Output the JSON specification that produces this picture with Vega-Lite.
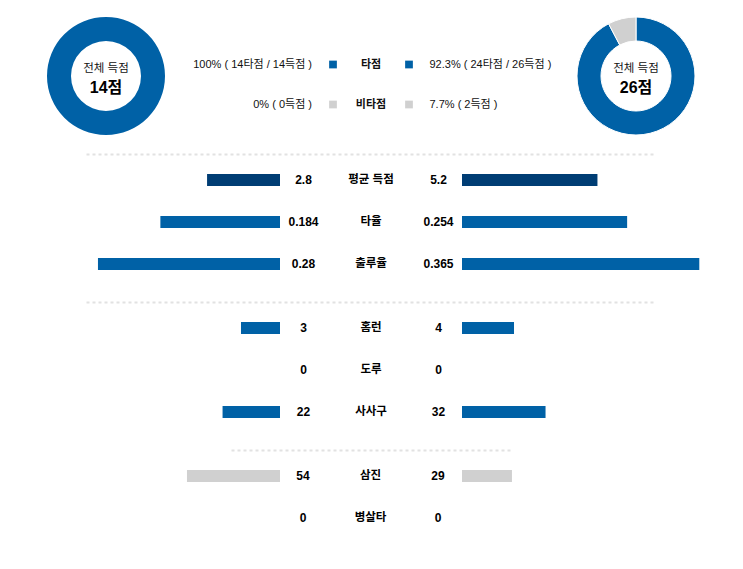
{
  "$schema": "https://vega.github.io/schema/vega-lite/v6.json",
  "padding": 0,
  "bounds": "flush",
  "spacing": 12,
  "background": "#ffffff",
  "config": {"view": {"stroke": null}, "font": "Liberation Sans, Noto Sans CJK KR"},
  "datasets": {
    "donut": [
      {"team": "home", "kind": "타점", "runs": 14},
      {"team": "home", "kind": "비타점", "runs": 0},
      {"team": "away", "kind": "타점", "runs": 24},
      {"team": "away", "kind": "비타점", "runs": 2}
    ],
    "donutText": [
      {"team": "home", "label": "전체 득점", "total": "14점"},
      {"team": "away", "label": "전체 득점", "total": "26점"}
    ],
    "legend": [
      {"kind": "타점", "home": "100% ( 14타점 / 14득점 )", "away": "92.3% ( 24타점 / 26득점 )"},
      {"kind": "비타점", "home": "0% ( 0득점 )", "away": "7.7% ( 2득점 )"}
    ],
    "stats": [
      {"stat": "평균 득점", "home": 2.8, "away": 5.2},
      {"stat": "타율", "home": 0.184, "away": 0.254},
      {"stat": "출루율", "home": 0.28, "away": 0.365},
      {"stat": "홈런", "home": 3, "away": 4},
      {"stat": "도루", "home": 0, "away": 0},
      {"stat": "사사구", "home": 22, "away": 32},
      {"stat": "삼진", "home": 54, "away": 29},
      {"stat": "병살타", "home": 0, "away": 0}
    ]
  },
  "vconcat": [
    {
      "width": 743,
      "height": 142,
      "layer": [
        {
          "data": {"name": "donut"},
          "transform": [{"filter": "datum.team === 'home'"}],
          "mark": {"type": "arc", "innerRadius": 35, "outerRadius": 59, "yOffset": 5},
          "encoding": {
            "theta": {"field": "runs", "type": "quantitative", "stack": true},
            "color": {"field": "kind", "type": "nominal", "scale": {"domain": ["타점", "비타점"], "range": ["#0061a6", "#d0d0d0"]}, "legend": null},
            "order": {"field": "kind", "sort": "descending"},
            "x": {"field": "team", "type": "nominal", "scale": {"type": "point", "domain": ["home", "away"], "range": [106, 636], "padding": 0}, "axis": null}
          }
        },
        {
          "data": {"name": "donut"},
          "transform": [{"filter": "datum.team === 'away'"}],
          "mark": {"type": "arc", "innerRadius": 35, "outerRadius": 59, "yOffset": 5, "stroke": "#ffffff", "strokeWidth": 1},
          "encoding": {
            "theta": {"field": "runs", "type": "quantitative", "stack": true},
            "color": {"field": "kind", "type": "nominal", "scale": {"domain": ["타점", "비타점"], "range": ["#0061a6", "#d0d0d0"]}, "legend": null},
            "order": {"field": "kind", "sort": "descending"},
            "x": {"field": "team", "type": "nominal", "scale": {"type": "point", "domain": ["home", "away"], "range": [106, 636], "padding": 0}, "axis": null}
          }
        },
        {
          "data": {"name": "donutText"},
          "mark": {"type": "text", "fontSize": 11.5, "color": "#111111", "yOffset": 5, "dy": -7.5, "baseline": "middle", "font": "Liberation Sans, Noto Sans CJK KR"},
          "encoding": {
            "text": {"field": "label"},
            "x": {"field": "team", "type": "nominal", "scale": {"type": "point", "domain": ["home", "away"], "range": [106, 636], "padding": 0}, "axis": null}
          }
        },
        {
          "data": {"name": "donutText"},
          "mark": {"type": "text", "fontSize": 16, "fontWeight": "bold", "color": "#000000", "yOffset": 5, "dy": 11.5, "baseline": "middle", "font": "Liberation Sans, Noto Sans CJK KR"},
          "encoding": {
            "text": {"field": "total"},
            "x": {"field": "team", "type": "nominal", "scale": {"type": "point", "domain": ["home", "away"], "range": [106, 636], "padding": 0}, "axis": null}
          }
        },
        {
          "data": {"name": "legend"},
          "mark": {"type": "text", "fontSize": 11, "color": "#111111", "align": "right", "dx": 17, "baseline": "middle", "font": "Liberation Sans, Noto Sans CJK KR"},
          "encoding": {
            "text": {"field": "home"},
            "x": {"datum": "home", "type": "nominal", "scale": {"type": "point", "domain": ["home", "swH", "label", "swA", "away"], "range": [295, 447], "padding": 0}, "axis": null},
            "y": {"field": "kind", "type": "nominal", "scale": {"type": "point", "domain": ["타점", "비타점"], "range": [64.5, 104.5], "padding": 0}, "axis": null}
          }
        },
        {
          "data": {"name": "legend"},
          "mark": {"type": "square", "size": 60, "opacity": 1, "filled": true},
          "encoding": {
            "color": {"field": "kind", "type": "nominal", "scale": {"domain": ["타점", "비타점"], "range": ["#0061a6", "#d0d0d0"]}, "legend": null},
            "x": {"datum": "swH", "type": "nominal", "scale": {"type": "point", "domain": ["home", "swH", "label", "swA", "away"], "range": [295, 447], "padding": 0}, "axis": null},
            "y": {"field": "kind", "type": "nominal", "scale": {"type": "point", "domain": ["타점", "비타점"], "range": [64.5, 104.5], "padding": 0}, "axis": null}
          }
        },
        {
          "data": {"name": "legend"},
          "mark": {"type": "square", "size": 60, "opacity": 1, "filled": true},
          "encoding": {
            "color": {"field": "kind", "type": "nominal", "scale": {"domain": ["타점", "비타점"], "range": ["#0061a6", "#d0d0d0"]}, "legend": null},
            "x": {"datum": "swA", "type": "nominal", "scale": {"type": "point", "domain": ["home", "swH", "label", "swA", "away"], "range": [295, 447], "padding": 0}, "axis": null},
            "y": {"field": "kind", "type": "nominal", "scale": {"type": "point", "domain": ["타점", "비타점"], "range": [64.5, 104.5], "padding": 0}, "axis": null}
          }
        },
        {
          "data": {"name": "legend"},
          "mark": {"type": "text", "fontSize": 11, "fontWeight": "bold", "color": "#111111", "align": "center", "baseline": "middle", "font": "Liberation Sans, Noto Sans CJK KR"},
          "encoding": {
            "text": {"field": "kind"},
            "x": {"datum": "label", "type": "nominal", "scale": {"type": "point", "domain": ["home", "swH", "label", "swA", "away"], "range": [295, 447], "padding": 0}, "axis": null},
            "y": {"field": "kind", "type": "nominal", "scale": {"type": "point", "domain": ["타점", "비타점"], "range": [64.5, 104.5], "padding": 0}, "axis": null}
          }
        },
        {
          "data": {"name": "legend"},
          "mark": {"type": "text", "fontSize": 11, "color": "#111111", "align": "left", "dx": -17.5, "baseline": "middle", "font": "Liberation Sans, Noto Sans CJK KR"},
          "encoding": {
            "text": {"field": "away"},
            "x": {"datum": "away", "type": "nominal", "scale": {"type": "point", "domain": ["home", "swH", "label", "swA", "away"], "range": [295, 447], "padding": 0}, "axis": null},
            "y": {"field": "kind", "type": "nominal", "scale": {"type": "point", "domain": ["타점", "비타점"], "range": [64.5, 104.5], "padding": 0}, "axis": null}
          }
        }
      ],
      "resolve": {"scale": {"x": "independent", "y": "independent", "theta": "independent", "color": "shared"}}
    },
    {
      "width": 743,
      "height": 136,
      "data": {"name": "stats"},
      "transform": [{"filter": {"field": "stat", "oneOf": ["평균 득점", "타율", "출루율"]}}],
      "encoding": {
        "y": {"field": "stat", "type": "nominal", "scale": {"domain": ["평균 득점", "타율", "출루율"], "paddingInner": 0, "paddingOuter": 0.119}, "axis": null}
      },
      "layer": [
        {
          "transform": [{"filter": "datum.stat === '평균 득점'"}],
          "mark": {"type": "bar", "size": 12, "color": "#003d74"},
          "encoding": {"x": {"field": "home", "type": "quantitative", "scale": {"domain": [0, 9.06], "range": [280, 44]}, "axis": null}}
        },
        {
          "transform": [{"filter": "datum.stat === '평균 득점'"}],
          "mark": {"type": "bar", "size": 12, "color": "#003d74"},
          "encoding": {"x": {"field": "away", "type": "quantitative", "scale": {"domain": [0, 9.06], "range": [462, 698]}, "axis": null}}
        },
        {
          "transform": [{"filter": "datum.stat !== '평균 득점'"}],
          "mark": {"type": "bar", "size": 12, "color": "#0061a6"},
          "encoding": {"x": {"field": "home", "type": "quantitative", "scale": {"domain": [0, 0.363], "range": [280, 44]}, "axis": null}}
        },
        {
          "transform": [{"filter": "datum.stat !== '평균 득점'"}],
          "mark": {"type": "bar", "size": 12, "color": "#0061a6"},
          "encoding": {"x": {"field": "away", "type": "quantitative", "scale": {"domain": [0, 0.363], "range": [462, 698]}, "axis": null}}
        },
        {
          "mark": {"type": "text", "fontSize": 12, "fontWeight": "bold", "color": "#000000", "baseline": "middle", "dx": 1.5, "font": "Liberation Sans, Noto Sans CJK KR"},
          "encoding": {
            "text": {"field": "home", "type": "nominal"},
            "x": {"datum": "home", "type": "nominal", "scale": {"type": "point", "domain": ["p1", "p2", "p3", "home", "stat", "away", "p4", "p5", "p6"], "range": [86, 653], "padding": 0.2},
              "axis": {"orient": "top", "domainColor": "#e2e2e2", "domainDash": [3, 3], "domainWidth": 2, "ticks": false, "labels": false, "title": null, "grid": false}}
          }
        },
        {
          "mark": {"type": "text", "fontSize": 11.5, "fontWeight": "bold", "color": "#000000", "baseline": "middle", "dx": 1.5, "font": "Liberation Sans, Noto Sans CJK KR"},
          "encoding": {
            "text": {"field": "stat", "type": "nominal"},
            "x": {"datum": "stat", "type": "nominal", "scale": {"type": "point", "domain": ["p1", "p2", "p3", "home", "stat", "away", "p4", "p5", "p6"], "range": [86, 653], "padding": 0.2}, "axis": null}
          }
        },
        {
          "mark": {"type": "text", "fontSize": 12, "fontWeight": "bold", "color": "#000000", "baseline": "middle", "dx": 1.5, "font": "Liberation Sans, Noto Sans CJK KR"},
          "encoding": {
            "text": {"field": "away", "type": "nominal"},
            "x": {"datum": "away", "type": "nominal", "scale": {"type": "point", "domain": ["p1", "p2", "p3", "home", "stat", "away", "p4", "p5", "p6"], "range": [86, 653], "padding": 0.2}, "axis": null}
          }
        }
      ],
      "resolve": {"scale": {"x": "independent"}}
    },
    {
      "width": 743,
      "height": 136,
      "data": {"name": "stats"},
      "transform": [{"filter": {"field": "stat", "oneOf": ["홈런", "도루", "사사구"]}}],
      "encoding": {
        "y": {"field": "stat", "type": "nominal", "scale": {"domain": ["홈런", "도루", "사사구"], "paddingInner": 0, "paddingOuter": 0.119}, "axis": null}
      },
      "layer": [
        {
          "transform": [{"filter": "datum.stat === '홈런'"}],
          "mark": {"type": "bar", "size": 12, "color": "#0061a6"},
          "encoding": {"x": {"field": "home", "type": "quantitative", "scale": {"domain": [0, 18.15], "range": [280, 44]}, "axis": null}}
        },
        {
          "transform": [{"filter": "datum.stat === '홈런'"}],
          "mark": {"type": "bar", "size": 12, "color": "#0061a6"},
          "encoding": {"x": {"field": "away", "type": "quantitative", "scale": {"domain": [0, 18.15], "range": [462, 698]}, "axis": null}}
        },
        {
          "transform": [{"filter": "datum.stat === '사사구'"}],
          "mark": {"type": "bar", "size": 12, "color": "#0061a6"},
          "encoding": {"x": {"field": "home", "type": "quantitative", "scale": {"domain": [0, 90.4], "range": [280, 44]}, "axis": null}}
        },
        {
          "transform": [{"filter": "datum.stat === '사사구'"}],
          "mark": {"type": "bar", "size": 12, "color": "#0061a6"},
          "encoding": {"x": {"field": "away", "type": "quantitative", "scale": {"domain": [0, 90.4], "range": [462, 698]}, "axis": null}}
        },
        {
          "mark": {"type": "text", "fontSize": 12, "fontWeight": "bold", "color": "#000000", "baseline": "middle", "dx": 1.5, "font": "Liberation Sans, Noto Sans CJK KR"},
          "encoding": {
            "text": {"field": "home", "type": "nominal"},
            "x": {"datum": "home", "type": "nominal", "scale": {"type": "point", "domain": ["p1", "p2", "p3", "home", "stat", "away", "p4", "p5", "p6"], "range": [86, 653], "padding": 0.2},
              "axis": {"orient": "top", "domainColor": "#e2e2e2", "domainDash": [3, 3], "domainWidth": 2, "ticks": false, "labels": false, "title": null, "grid": false}}
          }
        },
        {
          "mark": {"type": "text", "fontSize": 11.5, "fontWeight": "bold", "color": "#000000", "baseline": "middle", "dx": 1.5, "font": "Liberation Sans, Noto Sans CJK KR"},
          "encoding": {
            "text": {"field": "stat", "type": "nominal"},
            "x": {"datum": "stat", "type": "nominal", "scale": {"type": "point", "domain": ["p1", "p2", "p3", "home", "stat", "away", "p4", "p5", "p6"], "range": [86, 653], "padding": 0.2}, "axis": null}
          }
        },
        {
          "mark": {"type": "text", "fontSize": 12, "fontWeight": "bold", "color": "#000000", "baseline": "middle", "dx": 1.5, "font": "Liberation Sans, Noto Sans CJK KR"},
          "encoding": {
            "text": {"field": "away", "type": "nominal"},
            "x": {"datum": "away", "type": "nominal", "scale": {"type": "point", "domain": ["p1", "p2", "p3", "home", "stat", "away", "p4", "p5", "p6"], "range": [86, 653], "padding": 0.2}, "axis": null}
          }
        }
      ],
      "resolve": {"scale": {"x": "independent"}}
    },
    {
      "width": 743,
      "height": 94,
      "data": {"name": "stats"},
      "transform": [{"filter": {"field": "stat", "oneOf": ["삼진", "병살타"]}}],
      "encoding": {
        "y": {"field": "stat", "type": "nominal", "scale": {"domain": ["삼진", "병살타"], "paddingInner": 0, "paddingOuter": 0.119}, "axis": null}
      },
      "layer": [
        {
          "transform": [{"filter": "datum.stat === '삼진'"}],
          "mark": {"type": "bar", "size": 12, "color": "#d0d0d0"},
          "encoding": {"x": {"field": "home", "type": "quantitative", "scale": {"domain": [0, 137], "range": [280, 44]}, "axis": null}}
        },
        {
          "transform": [{"filter": "datum.stat === '삼진'"}],
          "mark": {"type": "bar", "size": 12, "color": "#d0d0d0"},
          "encoding": {"x": {"field": "away", "type": "quantitative", "scale": {"domain": [0, 137], "range": [462, 698]}, "axis": null}}
        },
        {
          "mark": {"type": "text", "fontSize": 12, "fontWeight": "bold", "color": "#000000", "baseline": "middle", "font": "Liberation Sans, Noto Sans CJK KR"},
          "encoding": {
            "text": {"field": "home", "type": "nominal"},
            "x": {"datum": "home", "type": "nominal", "scale": {"type": "point", "domain": ["p1", "home", "stat", "away", "p2"], "range": [231, 510], "padding": 0.0667},
              "axis": {"orient": "top", "domainColor": "#e2e2e2", "domainDash": [3, 3], "domainWidth": 2, "ticks": false, "labels": false, "title": null, "grid": false}}
          }
        },
        {
          "mark": {"type": "text", "fontSize": 11.5, "fontWeight": "bold", "color": "#000000", "baseline": "middle", "font": "Liberation Sans, Noto Sans CJK KR"},
          "encoding": {
            "text": {"field": "stat", "type": "nominal"},
            "x": {"datum": "stat", "type": "nominal", "scale": {"type": "point", "domain": ["p1", "home", "stat", "away", "p2"], "range": [231, 510], "padding": 0.0667}, "axis": null}
          }
        },
        {
          "mark": {"type": "text", "fontSize": 12, "fontWeight": "bold", "color": "#000000", "baseline": "middle", "font": "Liberation Sans, Noto Sans CJK KR"},
          "encoding": {
            "text": {"field": "away", "type": "nominal"},
            "x": {"datum": "away", "type": "nominal", "scale": {"type": "point", "domain": ["p1", "home", "stat", "away", "p2"], "range": [231, 510], "padding": 0.0667}, "axis": null}
          }
        }
      ],
      "resolve": {"scale": {"x": "independent"}}
    }
  ]
}
